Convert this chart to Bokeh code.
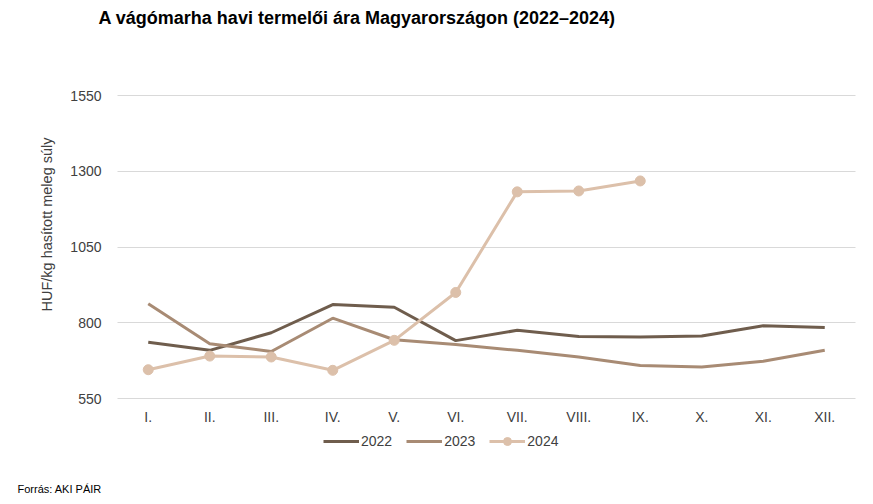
import math
from bokeh.plotting import figure
from bokeh.models import Label, Legend, LegendItem, FixedTicker, Range1d
from bokeh.embed import file_html
from bokeh.resources import INLINE

months = ["I.", "II.", "III.", "IV.", "V.", "VI.", "VII.", "VIII.", "IX.", "X.", "XI.", "XII."]
y2022 = [736, 709, 767, 860, 851, 741, 775, 755, 753, 756, 790, 784]
y2023 = [863, 731, 705, 815, 744, 728, 709, 687, 659, 654, 673, 709]
y2024 = [645, 690, 687, 643, 742, 900, 1232, 1235, 1268]
y_ticks = [550, 800, 1050, 1300, 1550]

title_text = "A vágómarha havi termelői ára Magyarországon (2022–2024)"
y_label = "HUF/kg hasított meleg súly"
source_text = "Forrás: AKI PÁIR"

c2022 = "#6F5D4D"
c2023 = "#A88B74"
c2024 = "#DCC0AA"
font = "Liberation Sans"
txt = "#404040"

W, H = 865, 496
# plot area in pixels (frame covers whole canvas; axes drawn at fixed locations)
left_px, right_px, top_px, bottom_px = 117, 855, 95, 398
xpos = list(range(1, len(months) + 1))
x_lo, x_hi = 0.5, len(months) + 0.5
y_lo, y_hi = y_ticks[0], y_ticks[-1]
xs = (x_hi - x_lo) / (right_px - left_px)
ys = (y_hi - y_lo) / (bottom_px - top_px)
x_range = Range1d(x_lo - left_px * xs, x_hi + (W - right_px) * xs)
y_range = Range1d(y_lo - (H - bottom_px) * ys, y_hi + top_px * ys)

p = figure(width=W, height=H, x_range=x_range, y_range=y_range,
           output_backend="svg", toolbar_location=None,
           min_border_left=0, min_border_right=0, min_border_top=0, min_border_bottom=0)
p.outline_line_color = None
p.background_fill_color = "white"
p.border_fill_color = "white"

p.xgrid.grid_line_color = None
grid = p.ygrid[0]
if "cross_bounds" in grid.properties():
    grid.grid_line_color = "#D9D9D9"
    grid.grid_line_width = 1
    grid.cross_bounds = (x_lo, x_hi)
else:
    grid.grid_line_color = None
    p.segment(x0=[x_lo] * len(y_ticks), x1=[x_hi] * len(y_ticks), y0=y_ticks, y1=y_ticks,
              line_color="#D9D9D9", line_width=1)

r1 = p.line(xpos, y2022, line_color=c2022, line_width=3)
r2 = p.line(xpos, y2023, line_color=c2023, line_width=3)
r3 = p.line(xpos[:len(y2024)], y2024, line_color=c2024, line_width=3)
r3m = p.scatter(xpos[:len(y2024)], y2024, size=10, fill_color=c2024, line_color=c2024)

p.yaxis.ticker = FixedTicker(ticks=y_ticks)
p.xaxis.ticker = FixedTicker(ticks=xpos)
p.xaxis.major_label_overrides = {x: m for x, m in zip(xpos, months)}
p.xaxis.fixed_location = y_lo
p.yaxis.fixed_location = x_lo

for ax in (p.xaxis, p.yaxis):
    ax.axis_line_color = None
    ax.major_tick_line_color = None
    ax.minor_tick_line_color = None
    ax.major_label_text_font = font
    ax.major_label_text_font_size = "14px"
    ax.major_label_text_color = txt
p.xaxis.major_label_standoff = 4
p.yaxis.major_label_standoff = 10

legend = Legend(items=[LegendItem(label="2022", renderers=[r1]),
                       LegendItem(label="2023", renderers=[r2]),
                       LegendItem(label="2024", renderers=[r3, r3m])],
                orientation="horizontal", location=(323, 45),
                label_text_font=font, label_text_font_size="14px", label_text_color=txt,
                glyph_width=36, label_standoff=2, spacing=14, padding=0, margin=0,
                border_line_color=None, background_fill_alpha=0)
p.add_layout(legend, "center")

p.add_layout(Label(x=46, y=H - 224, x_units="screen", y_units="screen", text=y_label,
                   angle=math.pi / 2, text_font=font, text_font_size="14.5px",
                   text_color=txt, text_align="center", text_baseline="middle"))
p.add_layout(Label(x=98, y=H - 17, x_units="screen", y_units="screen", text=title_text,
                   text_font=font, text_font_size="18px", text_font_style="bold",
                   text_color="#000000", text_baseline="middle"))
p.add_layout(Label(x=17, y=H - 488, x_units="screen", y_units="screen", text=source_text,
                   text_font=font, text_font_size="11px", text_color="#000000",
                   text_baseline="middle"))

open("out.html", "w").write(file_html(p, INLINE))
